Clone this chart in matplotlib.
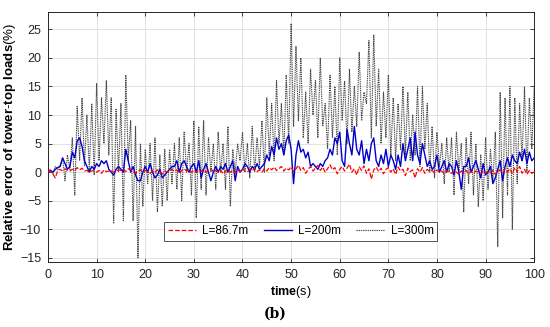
import numpy as np
from matplotlib import pyplot as plt

plt.rcParams["font.family"] = ["Liberation Sans", "DejaVu Sans"]
plt.rcParams["mathtext.fontset"] = "custom"
plt.rcParams["mathtext.rm"] = "Liberation Sans"
plt.rcParams["mathtext.bf"] = "Liberation Sans:bold"

time = np.arange(0, 100.5, 0.5)

err_867 = [
    0, 0.2, -0.3, -1.0, 0.3, 0.5, 0.2, 0.6, 0.3, 0.2,
    0.5, 0.3, 0.8, 0.4, 0.7, 0.2, 0.3, 0.0, 0.2, 0.4,
    0.0, 0.3, -0.2, 0.4, 0.1, 0.2, 0.3, 0.0, 0.2, 0.4,
    0.3, 0.5, 0.1, 0.6, 0.4, 0.0, -0.2, 0.2, 0.4, 0.0,
    0.3, 0.1, -0.2, 0.2, 0.0, 0.4, 0.1, -0.3, 0.2, 0.0,
    0.3, 0.5, 0.1, 0.4, -0.2, 0.3, 0.6, 0.2, 0.4, 0.0,
    0.3, -0.1, 0.4, 0.2, 0.5, 0.0, 0.3, 0.6, 0.1, 0.3,
    0.0, 0.4, -0.3, 0.2, 0.5, 0.0, 0.3, -0.2, 0.4, 0.1,
    0.6, 0.2, 0.0, 0.5, 0.3, 0.7, 0.1, 0.4, 0.0, 0.6,
    0.2, 0.8, 0.4, 0.9, 0.3, 0.6, 1.0, 0.2, 0.7, 0.4,
    0.9, 0.1, 0.6, 1.2, 0.3, 0.8, -0.2, 0.5, 1.0, 0.2,
    0.7, 1.2, 0.3, 0.9, 0.0, 0.6, 1.3, 0.4, 0.8, -0.3,
    0.5, 1.0, 0.2, 0.7, 1.4, 0.0, 0.6, -0.5, 0.9, 0.3,
    1.1, -0.2, 0.6, -1.2, 0.4, 0.9, 0.1, 0.7, -0.3, 0.5,
    0.8, 0.0, 0.6, -0.4, 0.9, 0.2, 0.5, -0.6, 0.7, 0.1,
    0.4, -1.0, 0.6, 0.0, 0.8, -0.2, 0.5, 0.1, 0.3, -0.1,
    0.4, 0.0, 0.2, -0.3, 0.3, 0.0, -0.2, 0.2, 0.0, -0.4,
    0.2, -0.1, 0.3, -0.3, 0.1, -0.2, 0.2, 0.0, -0.3, 0.1,
    -0.2, 0.2, -0.1, 0.3, -0.4, 0.1, 0.4, -0.2, 0.5, 0.0,
    0.6, -0.3, 0.8, 0.1, 1.0, -0.2, 0.5, -0.4, 0.3, -0.2,
    0.0,
]

err_200 = [
    0, 0.3, 0, 0.5, 0.8, 1.0, 2.5, 1.5, 0.5, 1.0,
    3.5, 2.5, 5.5, 6.0, 4.5, 2.0, 1.0, 0.0, 1.0, 0.5,
    1.5, 1.0, 2.0, 1.5, 2.0, 0.5, 0.0, -0.5, 0.5, 1.0,
    0.5, 0.0, 4.0, 2.0, 0.0, 1.0, -0.5, -1.5, -1.5, 0.0,
    1.0, 0.0, 1.5, 0.0, -1.0, -0.5, 0.5, -1.0, -0.5, 0.0,
    0.5, 1.0, 1.0, 2.0, 0.0, 1.5, 2.0, 1.0, 0.0, 1.0,
    1.5, 0.0, 2.0, -1.0, 0.5, 1.5, 0.0, -1.5, 0.0, 1.0,
    0.0, 1.0, 0.5, 1.5, 0.0, 1.0, 2.0, -1.5, 1.0, 0.0,
    0.5, 1.5, 1.0, 0.0, 1.0, 0.5, 1.5, 0.5, 1.0, 1.5,
    3.0, 2.0, 4.5, 3.0, 6.0, 4.0, 5.0, 3.0, 5.5, 6.5,
    4.0, -2.0, 3.0, 5.5, 3.5, 4.0, 2.5, 3.5, 1.0, 1.5,
    1.0, 0.5, 1.5, 1.0, 2.0, 2.5, 4.0, 3.0, 6.0, 5.0,
    7.0, 2.0, 1.0, 7.5, 5.0, 3.0, 8.0, 4.0, 3.0, 5.5,
    1.5, 4.0, 2.0, 5.0, 6.0, 2.0, 1.0, 3.0, 1.5, 4.0,
    1.0, 3.0, 2.0, 0.5, 3.0, 1.0, 5.0, 2.0, 4.0, 6.0,
    2.0, 7.0, 3.0, 1.5, 5.0, 3.0, 1.0, 2.0, 0.5, 1.0,
    3.0, 0.0, 1.0, 2.0, 0.0, 1.5, 1.0, -0.5, 2.0, 0.0,
    -3.0, 1.0, 1.0, 2.5, 0.0, 1.0, 2.0, 0.5, -1.0, 1.5,
    -0.5, 0.0, 1.0, -2.0, -1.0, 0.5, 2.0, -1.5, 1.0, 2.5,
    1.0, 3.0, 2.0, 1.5, 3.5, 2.0, 4.0, 1.5, 3.5, 2.0,
    2.5,
]

err_300 = [
    0, 0.5, -0.3, 1.0, 0.5, 1.2, 2.5, -1.5, 3.0, 0.5,
    6.0, -4.0, 11.5, 2.0, 13.0, 1.0, 10.0, 0.0, 12.0, -0.5,
    15.5, 2.0, 13.0, 5.0, 16.0, 3.0, 13.0, -9.0, 11.0, 0.0,
    12.0, -8.5, 17.0, 2.0, 9.0, -8.5, 8.0, -15.0, 5.0, -6.0,
    4.0, -2.0, 5.0, -5.0, 6.0, -7.0, 3.0, -6.0, 4.0, -5.0,
    4.0, -2.0, 5.0, -3.0, 6.0, -5.0, 7.0, 0.0, 5.0, -4.0,
    9.0, -8.0, 8.0, -3.0, 9.0, -4.0, 6.0, 0.0, 5.0, -3.0,
    7.0, 0.0, 5.0, -3.0, 8.0, -6.0, 4.0, 0.0, 5.0, 2.0,
    7.0, 0.0, 5.0, -1.0, 8.0, 0.0, 6.0, 1.0, 9.0, 0.0,
    13.0, 3.0, 12.0, 2.0, 16.0, 5.0, 12.0, 3.0, 17.0, 5.0,
    26.0, 8.0, 22.0, 9.0, 20.0, 6.0, 14.0, 5.0, 18.0, 10.0,
    16.0, 6.0, 20.0, 8.0, 12.0, 4.0, 17.0, 6.0, 15.0, 3.0,
    20.0, 9.0, 16.0, 5.0, 18.0, 7.0, 15.0, 8.0, 21.0, 9.0,
    14.0, 12.0, 23.0, 6.0, 24.0, 8.0, 18.0, 5.0, 14.0, 6.0,
    17.0, 3.0, 13.0, 2.0, 12.0, 4.0, 15.0, 3.0, 14.0, 2.0,
    10.0, 3.0, 15.0, 1.0, 15.0, 4.0, 12.0, 0.0, 8.0, -1.0,
    7.0, 1.0, 5.0, -2.0, 6.0, 0.0, 6.0, -4.0, 7.0, 0.0,
    5.0, -7.0, 6.0, -2.0, 7.0, -4.0, 5.0, -6.0, 3.0, -5.0,
    6.0, -3.0, 4.0, -2.0, 7.0, -13.0, 14.0, -8.0, 13.0, -4.0,
    15.0, -10.0, 13.0, -2.0, 12.0, 2.0, 15.0, 0.0, 13.0, 4.0,
    15.0,
]

fig = plt.figure(figsize=(5.5, 3.27), dpi=100)
ax = fig.add_axes([0.0873, 0.199, 0.884, 0.764])

ax.plot(time, err_867, "--", color="red", linewidth=0.9, label="L=86.7m", zorder=4)
ax.plot(time, err_200, "-", color="#0000cc", linewidth=1.0, label="L=200m", zorder=3)
ax.plot(time, err_300, linestyle=(0, (1.2, 0.8)), color="#4a4a4a", linewidth=0.8,
        label="L=300m", zorder=2)

ax.set_xlim(0, 100)
ax.set_ylim(-15.7, 28)
ax.set_xticks(np.arange(0, 101, 10))
ax.set_yticks(np.arange(-15, 26, 5))
ax.grid(True, color="#dddddd", linewidth=0.6)
ax.set_axisbelow(True)
ax.tick_params(direction="in", top=True, right=True, labelsize=9,
               colors="#262626", length=3, width=0.6, pad=5)
for s in ax.spines.values():
    s.set_color("#262626")
    s.set_linewidth(0.7)

ax.set_xlabel(r"$\mathbf{time}$(s)", fontsize=9, labelpad=2)
ax.set_ylabel(r"$\mathbf{Relative\ error\ of\ tower}$-$\mathbf{top\ loads}$(%)",
              fontsize=9.5, labelpad=1)

leg = ax.legend(loc="lower center", bbox_to_anchor=(0.52, 0.06), ncol=3,
                fontsize=8.5, frameon=True, fancybox=False, borderpad=0.3,
                handlelength=2.4, columnspacing=1.3, handletextpad=0.5)
leg.get_frame().set_edgecolor("#262626")
leg.get_frame().set_linewidth(0.7)

fig.text(0.5, 0.042, "(b)", family="DejaVu Serif", fontweight="bold",
         fontsize=10, ha="center", va="center")

fig.savefig("out.png", dpi=100)
